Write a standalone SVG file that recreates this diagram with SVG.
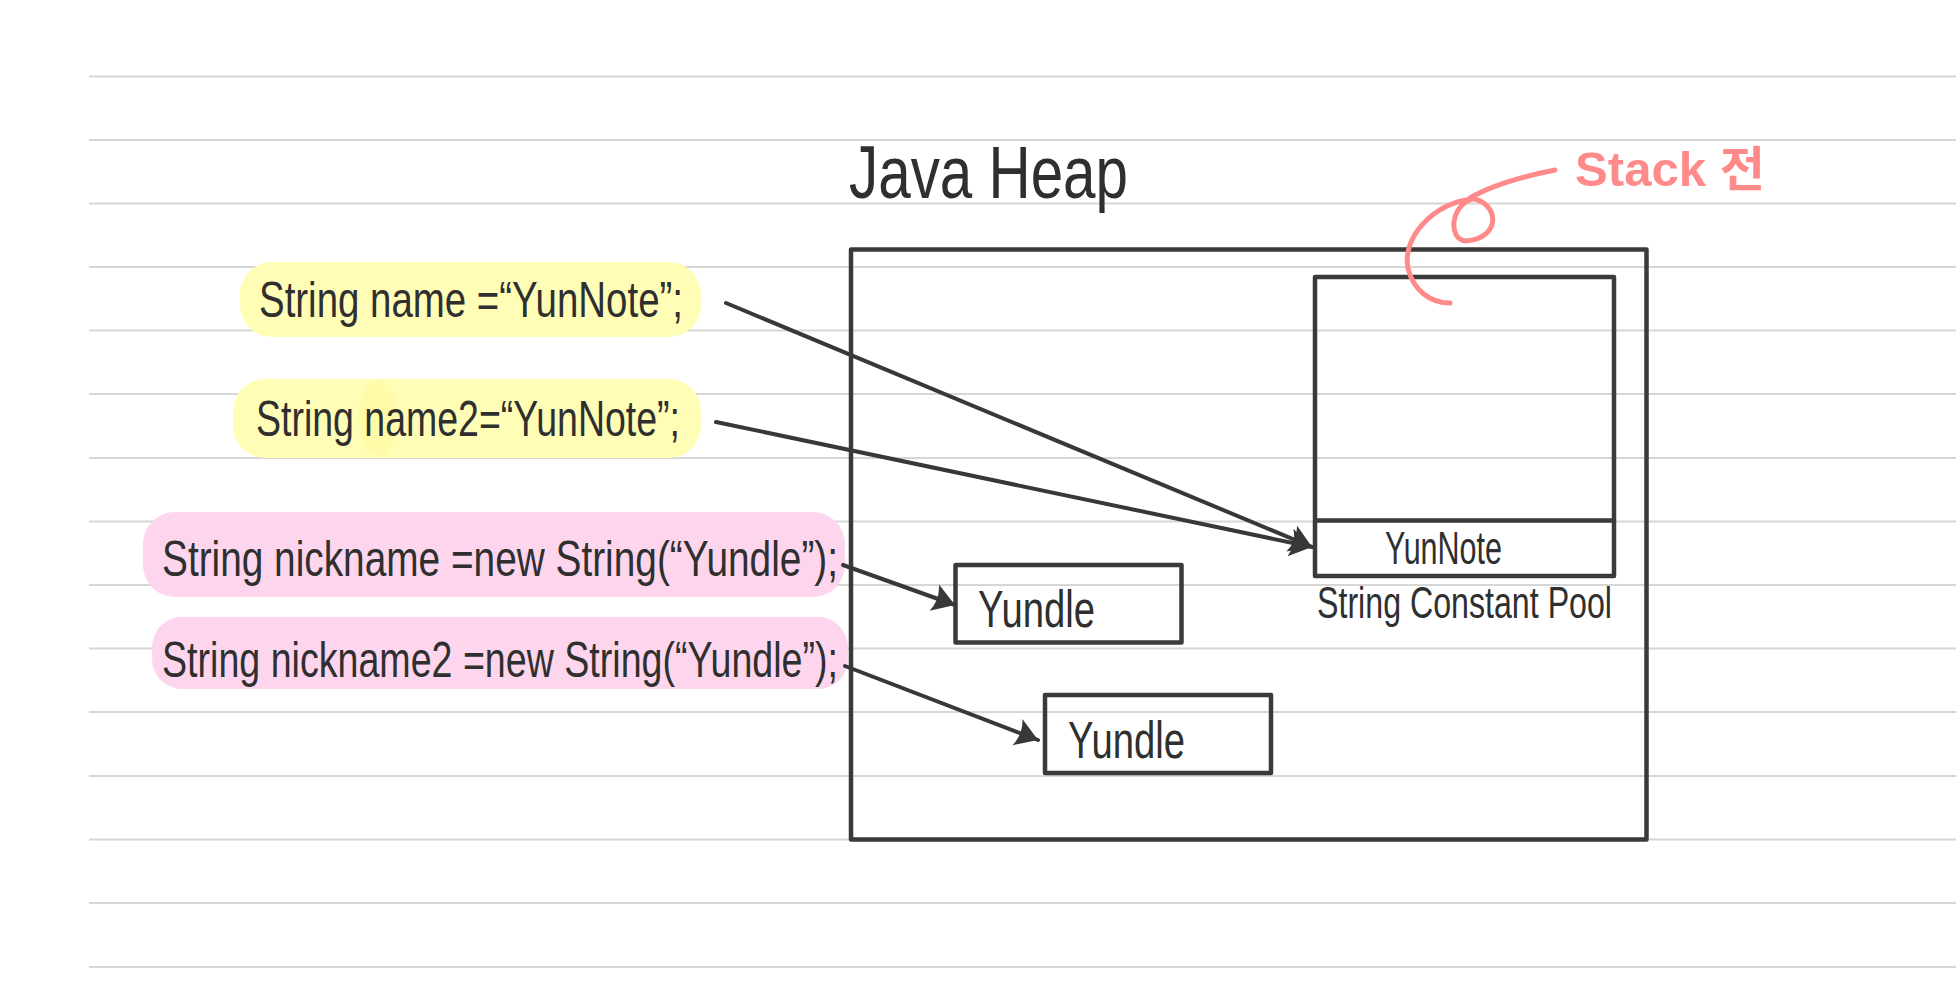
<svg xmlns="http://www.w3.org/2000/svg" width="1956" height="1000" viewBox="0 0 1956 1000">
<defs>
<style>
.rule{stroke:#d6d6d6;stroke-width:2}
.box{fill:none;stroke:#3a3a3a;stroke-width:4.5;stroke-linejoin:round}
.hand{font-family:"Liberation Sans","Noto Sans CJK KR",sans-serif;fill:#2f2f2f}
.code{font-size:50px}
.lbl{font-size:52px}
.conn{stroke:#383838;stroke-width:4;stroke-linecap:round;fill:none}
.yellow{fill:#fffdb6}
.pink{fill:#fdd6ee}
.note{fill:none;stroke:#ff8a8a;stroke-width:5;stroke-linecap:round;stroke-linejoin:round}
</style>
<marker id="arrow" markerUnits="userSpaceOnUse" markerWidth="30" markerHeight="34" refX="22" refY="14" orient="auto">
<path d="M0,0 L22,14 L0,28 Q6,14 0,0 Z" fill="#383838"/>
</marker>
</defs>
<rect width="1956" height="1000" fill="#ffffff"/>
<g id="ruled-lines">
<line class="rule" x1="89" y1="76.5" x2="1956" y2="76.5"/>
<line class="rule" x1="89" y1="140" x2="1956" y2="140"/>
<line class="rule" x1="89" y1="203.5" x2="1956" y2="203.5"/>
<line class="rule" x1="89" y1="267" x2="1956" y2="267"/>
<line class="rule" x1="89" y1="330.5" x2="1956" y2="330.5"/>
<line class="rule" x1="89" y1="394" x2="1956" y2="394"/>
<line class="rule" x1="89" y1="458" x2="1956" y2="458"/>
<line class="rule" x1="89" y1="521.5" x2="1956" y2="521.5"/>
<line class="rule" x1="89" y1="585" x2="1956" y2="585"/>
<line class="rule" x1="89" y1="648.5" x2="1956" y2="648.5"/>
<line class="rule" x1="89" y1="712" x2="1956" y2="712"/>
<line class="rule" x1="89" y1="776" x2="1956" y2="776"/>
<line class="rule" x1="89" y1="839.5" x2="1956" y2="839.5"/>
<line class="rule" x1="89" y1="903" x2="1956" y2="903"/>
<line class="rule" x1="89" y1="967" x2="1956" y2="967"/>
</g>
<g id="code-name">
<rect class="yellow" x="240" y="262" width="461" height="75" rx="32"/>
<text class="hand code" x="259" y="317" textLength="424" lengthAdjust="spacingAndGlyphs">String name =“YunNote”;</text>
</g>
<g id="code-name2">
<rect class="yellow" x="233" y="379" width="468" height="79" rx="32"/>
<ellipse cx="378" cy="418" rx="20" ry="38" fill="#fffa9c" opacity="0.5"/>
<text class="hand code" x="256" y="436" textLength="424" lengthAdjust="spacingAndGlyphs">String name2=“YunNote”;</text>
</g>
<g id="code-nickname">
<rect class="pink" x="143" y="512" width="702" height="85" rx="32"/>
<text class="hand code" x="162" y="576" textLength="676" lengthAdjust="spacingAndGlyphs">String nickname =new String(“Yundle”);</text>
</g>
<g id="code-nickname2">
<rect class="pink" x="152" y="617" width="696" height="72" rx="30"/>
<text class="hand code" x="162" y="677" textLength="676" lengthAdjust="spacingAndGlyphs">String nickname2 =new String(“Yundle”);</text>
</g>
<g id="java-heap">
<rect class="box" x="851" y="249.5" width="795.5" height="590" stroke-width="5"/>
<text class="hand" x="849" y="198" font-size="74" textLength="279" lengthAdjust="spacingAndGlyphs">Java Heap</text>
</g>
<g id="string-pool">
<rect class="box" x="1315" y="277" width="299" height="299"/>
<line class="box" x1="1315" y1="520.5" x2="1614" y2="520.5"/>
<text class="hand" x="1385" y="564" font-size="46" textLength="117" lengthAdjust="spacingAndGlyphs">YunNote</text>
<text class="hand" x="1317" y="618" font-size="44" textLength="295" lengthAdjust="spacingAndGlyphs">String Constant Pool</text>
</g>
<g id="yundle-1">
<rect class="box" x="955.5" y="565" width="226" height="77.5"/>
<text class="hand lbl" x="978" y="627" textLength="117" lengthAdjust="spacingAndGlyphs">Yundle</text>
</g>
<g id="yundle-2">
<rect class="box" x="1045" y="695" width="226" height="78"/>
<text class="hand lbl" x="1068" y="758" textLength="117" lengthAdjust="spacingAndGlyphs">Yundle</text>
</g>
<g id="stack-note">
<path class="note" d="M1555,170 C1525,176 1492,185 1470,198 C1500,202 1502,238 1466,241 C1448,240 1450,206 1472,199 C1432,204 1402,238 1408,268 C1413,290 1430,303 1450,303"/>
<text class="hand" x="1575" y="186" font-size="48" font-weight="bold" style="fill:#ff8a8a" textLength="190" lengthAdjust="spacingAndGlyphs">Stack 전</text>
</g>
<g id="connectors">
<path class="conn" d="M726,303 L1312,547" marker-end="url(#arrow)"/>
<path class="conn" d="M716,422 L1312,547" marker-end="url(#arrow)"/>
<path class="conn" d="M843,565 L955,605" marker-end="url(#arrow)"/>
<path class="conn" d="M845,666 L1038,740" marker-end="url(#arrow)"/>
</g>
</svg>
